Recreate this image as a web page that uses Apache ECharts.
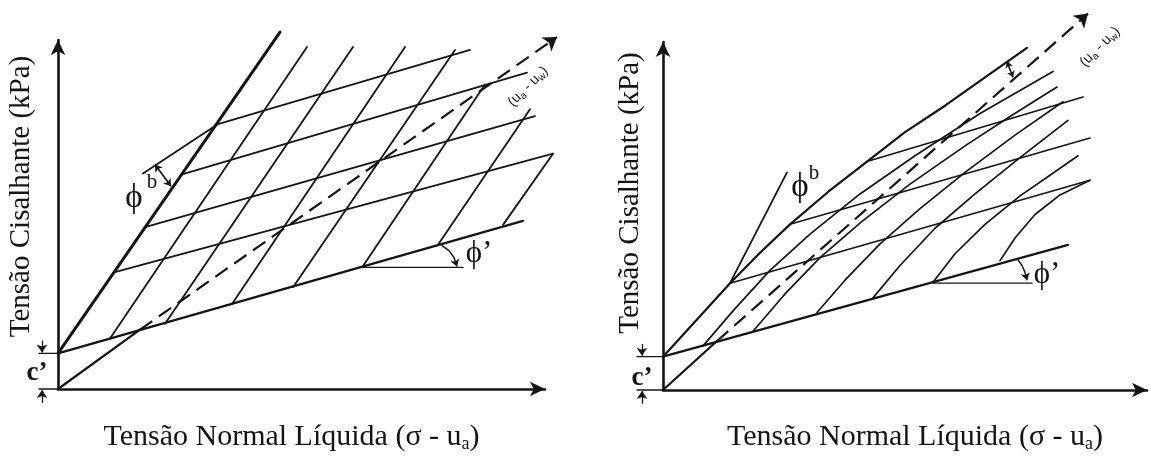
<!DOCTYPE html>
<html>
<head>
<meta charset="utf-8">
<script src="https://cdn.jsdelivr.net/npm/echarts/dist/echarts.min.js"></script>
<style>
  html, body { margin: 0; padding: 0; background: #ffffff; }
  #chart { width: 1151px; height: 458px; }
</style>
</head>
<body>
<div id="chart"></div>
<script>
// ---- Left diagram: planar extended Mohr-Coulomb envelope (units: arbitrary) ----
const leftAxisMax = [487, 353];
const leftCohesion = 36;
const leftPhiLine = [[0, 36], [465, 170]];
const leftEnvelope = [[0, 36], [222, 361]];
const leftSuctionSolid = [[0, 0], [82, 60]];
const leftSuctionDashed = [[82, 60], [499, 356]];
const leftContours = [
  [[85, 218], [160, 268], [412, 343]],
  [[124, 217], [469, 320]],
  [[88, 164], [477, 276]],
  [[56, 118], [495, 238]]
];
const leftSections = [
  [[52, 51], [249, 346]],
  [[107, 66], [295, 346]],
  [[174, 86], [347, 346]],
  [[235, 103], [397, 343]],
  [[304, 123], [427, 308]],
  [[380, 146], [472, 283]],
  [[445, 166], [495, 238]]
];
const leftPhiRef = [[302, 123], [405, 123]];
const leftPhiArc = [[384, 145], [391, 140], [396, 133], [399, 124]];
const leftPhiBArc = [[97, 227], [104, 221], [109, 213], [113, 205]];

// ---- Right diagram: nonlinear envelope ----
const rightAxisMax = [484, 355];
const rightCohesion = 34;
const rightPhiLine = [[0, 34], [405, 148]];
const rightEnvelope = [[0, 34], [34, 72], [67, 109], [97, 140], [127, 169], [165, 202],
  [204, 233], [242, 263], [282, 290], [322, 319], [364, 349]];
const rightPhiBLine = [[67, 109], [124, 222]];
const rightSuctionSolid = [[0, 0], [54, 50]];
const rightSuctionDashed = [[54, 50], [425, 384]];
const rightContours = [
  [[67, 109], [427, 214]],
  [[127, 169], [427, 257]],
  [[204, 233], [420, 299]]
];
const rightSections = [
  [[40, 45], [72, 83], [107, 122], [147, 159], [197, 200], [252, 239], [317, 282], [390, 325]],
  [[90, 60], [122, 98], [157, 135], [199, 172], [247, 210], [302, 249], [347, 279], [394, 309]],
  [[154, 79], [182, 112], [217, 149], [257, 185], [302, 222], [352, 260], [400, 294]],
  [[210, 94], [237, 127], [272, 165], [312, 200], [357, 237], [405, 275]],
  [[270, 110], [292, 139], [322, 169], [357, 198], [387, 219], [415, 239]],
  [[337, 132], [352, 155], [372, 179], [397, 199], [427, 214]]
];
const rightPhiRef = [[270, 109], [369, 109]];
const rightPhiArc = [[354, 134], [359, 127], [362, 120], [364, 112]];
const rightMarker = [[344, 335], [350, 319]];

// ---- Texts ----
const yTitle = 'Tensão Cisalhante (kPa)';
const xTitleMain = 'Tensão Normal Líquida (σ - u';
const xTitleSub = 'a';

const INK = '#141414';
const SERIF = '"Liberation Serif", "DejaVu Serif", serif';
const SANS = '"Liberation Sans", Arial, sans-serif';

const chart = echarts.init(document.getElementById('chart'));

function strokes(grid, list, width, extra) {
  return Object.assign({
    type: 'lines', coordinateSystem: 'cartesian2d',
    xAxisIndex: grid, yAxisIndex: grid,
    polyline: true, clip: false, silent: true, z: 3,
    lineStyle: { color: INK, width: width, opacity: 1, cap: 'round', join: 'round' },
    data: list.map(c => ({ coords: c }))
  }, extra || {});
}
function arrows(grid, list, ends, size, width, dash) {
  const s = {
    type: 'lines', coordinateSystem: 'cartesian2d',
    xAxisIndex: grid, yAxisIndex: grid,
    polyline: false, clip: false, silent: true, z: 4,
    symbol: ends, symbolSize: size,
    lineStyle: { color: INK, width: width, opacity: 1 },
    data: list.map(c => ({ coords: c }))
  };
  if (dash) s.lineStyle.type = dash;
  return s;
}
function cohesionMarks(grid, c, x0, xa) {
  return [
    strokes(grid, [[[x0, c], [0, c]], [[x0, 0], [0, 0]]], 1.4),
    arrows(grid, [[[xa, c + 13], [xa, c + 1]], [[xa, -14], [xa, -1]]], ['none', 'arrow'], 8, 1.3)
  ];
}
function xAxis(grid, max, pad, gap) {
  return {
    type: 'value', gridIndex: grid, min: 0, max: max,
    axisLine: { show: true, onZero: false, symbol: ['none', 'arrow'], symbolSize: [11, 15],
      lineStyle: { color: INK, width: 2.6 } },
    axisTick: { show: false }, axisLabel: { show: false }, splitLine: { show: false },
    name: '{t|' + xTitleMain + '}{s|' + xTitleSub + '}{t|)}',
    nameLocation: 'middle', nameGap: gap,
    nameTextStyle: {
      padding: pad,
      rich: {
        t: { fontFamily: SERIF, fontSize: 30, color: INK },
        s: { fontFamily: SERIF, fontSize: 18, color: INK, verticalAlign: 'bottom', padding: [13, 0, 0, 0] }
      }
    }
  };
}
function yAxis(grid, max, gap, pad) {
  return {
    type: 'value', gridIndex: grid, min: 0, max: max,
    axisLine: { show: true, onZero: false, symbol: ['none', 'arrow'], symbolSize: [11, 15],
      lineStyle: { color: INK, width: 2.6 } },
    axisTick: { show: false }, axisLabel: { show: false }, splitLine: { show: false },
    name: yTitle, nameLocation: 'middle', nameGap: gap, nameRotate: 90,
    nameTextStyle: { fontFamily: SERIF, fontSize: 29, color: INK, padding: pad }
  };
}

const series = [
  // left
  strokes(0, [leftPhiLine], 2.2),
  strokes(0, [leftEnvelope], 3),
  strokes(0, [leftSuctionSolid], 2.2),
  arrows(0, [leftSuctionDashed], ['none', 'arrow'], 13, 2.2, [15, 8]),
  strokes(0, leftContours, 1.8),
  strokes(0, leftSections, 1.8),
  strokes(0, [leftPhiRef], 1.4),
  strokes(0, [leftPhiArc.slice(0, 3)], 1.4),
  arrows(0, [leftPhiArc.slice(2)], ['none', 'arrow'], 7, 1.4),
  arrows(0, [[leftPhiBArc[0], leftPhiBArc[3]]], ['arrow', 'arrow'], 7, 1.6),
  ...cohesionMarks(0, leftCohesion, -19, -16),
  // right
  strokes(1, [rightPhiLine], 2.2),
  strokes(1, [rightEnvelope], 2.2),
  strokes(1, [rightPhiBLine], 1.8),
  strokes(1, [rightSuctionSolid], 2.2),
  arrows(1, [rightSuctionDashed], ['none', 'arrow'], 13, 2.2, [15, 8]),
  strokes(1, rightContours, 1.6),
  strokes(1, rightSections, 1.7),
  strokes(1, [rightPhiRef], 1.4),
  strokes(1, [rightPhiArc.slice(0, 3)], 1.4),
  arrows(1, [rightPhiArc.slice(2)], ['none', 'arrow'], 7, 1.4),
  arrows(1, [rightMarker], ['arrow', 'arrow'], 6, 1.6),
  ...cohesionMarks(1, rightCohesion, -26, -21)
];

chart.setOption({
  backgroundColor: '#ffffff',
  animation: false,
  grid: [
    { left: 58, top: 40, width: leftAxisMax[0], height: leftAxisMax[1] },
    { left: 663, top: 42, width: rightAxisMax[0], height: rightAxisMax[1] }
  ],
  xAxis: [xAxis(0, leftAxisMax[0], [0, 20, 0, 0], 33), xAxis(1, rightAxisMax[0], [0, 0, 0, 20], 32)],
  yAxis: [yAxis(0, leftAxisMax[1], 22, [0, 0, 0, 36]), yAxis(1, rightAxisMax[1], 18, [0, 0, 0, 46])],
  series: series
});

// annotations anchored to data positions
function at(grid, pt) { return chart.convertToPixel({ gridIndex: grid }, pt); }
function label(grid, pt, text, size, weight) {
  const p = at(grid, pt);
  return {
    type: 'text', x: p[0], y: p[1], z: 10, silent: true,
    style: { text: text, fill: INK, fontSize: size, fontFamily: SERIF,
      fontWeight: weight || 'normal', align: 'center', verticalAlign: 'middle' }
  };
}
const suctionText = '{p|(u}{s|a}{p| - u}{s|w}{p|)}';
const suctionRich = {
  p: { fontFamily: SANS, fontSize: 14, fill: INK },
  s: { fontFamily: SANS, fontSize: 10, fill: INK, verticalAlign: 'bottom', padding: [7, 0, 0, 0] }
};
function suctionLabel(grid, pt) {
  const p = at(grid, pt);
  return { type: 'text', x: p[0], y: p[1], rotation: 45 * Math.PI / 180, z: 10, silent: true,
    style: { text: suctionText, rich: suctionRich, fill: INK, align: 'center', verticalAlign: 'middle' } };
}

chart.setOption({
  graphic: [
    label(0, [-21, 16], 'c’', 27, 'bold'),
    label(0, [421, 137], 'ϕ’', 31),
    label(0, [76, 193], 'ϕ', 33),
    label(0, [94, 209], 'b', 21),
    suctionLabel(0, [470, 306]),
    label(1, [-21, 12], 'c’', 27, 'bold'),
    label(1, [384, 117], 'ϕ’', 31),
    label(1, [137, 207], 'ϕ', 33),
    label(1, [151, 221], 'b', 21),
    suctionLabel(1, [437, 350])
  ]
});
</script>
</body>
</html>
